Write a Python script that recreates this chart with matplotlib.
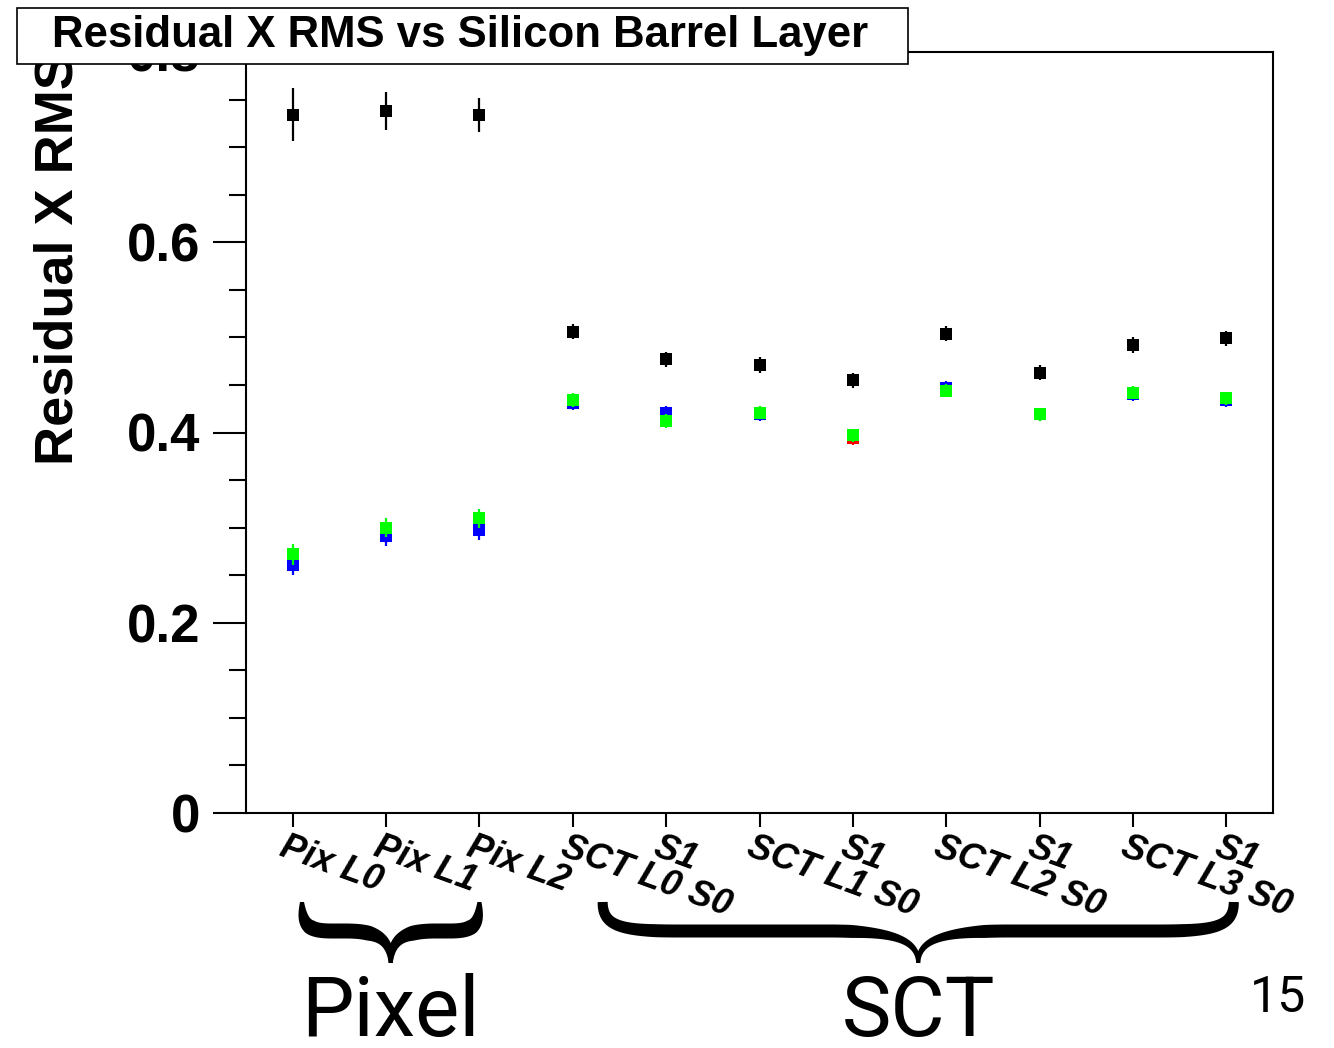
import matplotlib
matplotlib.use('Agg')
import matplotlib.pyplot as plt
import numpy as np
from matplotlib.patches import Polygon, Rectangle
from matplotlib.transforms import ScaledTranslation

plt.rcParams['font.family'] = ['Liberation Sans', 'DejaVu Sans']

layers = ['Pix L0', 'Pix L1', 'Pix L2', 'SCT L0 S0', 'S1', 'SCT L1 S0', 'S1',
          'SCT L2 S0', 'S1', 'SCT L3 S0', 'S1']

# residual x rms per barrel layer, one array per sample
rms_black = [0.734, 0.738, 0.734, 0.506, 0.477, 0.471, 0.455, 0.504, 0.463,
             0.492, 0.499]
err_black = [0.028, 0.020, 0.018, 0.008, 0.008, 0.008, 0.008, 0.008, 0.008,
             0.008, 0.008]
rms_red = [0.268, 0.294, 0.303, 0.433, 0.414, 0.420, 0.394, 0.444, 0.419,
           0.441, 0.435]
rms_blue = [0.261, 0.291, 0.297, 0.431, 0.421, 0.419, 0.397, 0.447, 0.419,
            0.440, 0.434]
rms_green = [0.272, 0.300, 0.310, 0.434, 0.412, 0.421, 0.397, 0.444, 0.419,
             0.442, 0.436]
err_colour = [0.011, 0.010, 0.010, 0.007, 0.007, 0.007, 0.007, 0.007, 0.007,
              0.007, 0.007]

groups = ['Pixel', 'SCT']


def cubic(p0, p1, p2, p3, n=40):
  t = np.linspace(0, 1, n)[:, None]
  p0, p1, p2, p3 = (np.asarray(p, float) for p in (p0, p1, p2, p3))
  return ((1 - t)**3 * p0 + 3 * (1 - t)**2 * t * p1 + 3 * (1 - t) * t**2 * p2 +
          t**3 * p3)


def half_brace(xa, xm, yt, ym, yb, r_end, r_tip, w_max, w_end, w_tip):
  """ Outline of one half of a curly brace, in pixels with y pointing down.

    Runs from the curled end at xa to the point at xm.
  """
  s = np.sign(xm - xa)
  curl = cubic((xa, yt), (xa, ym - 0.15 * (ym - yt)), (xa + s * 0.25 * r_end, ym),
               (xa + s * r_end, ym))
  arm = np.column_stack([np.linspace(xa + s * r_end, xm - s * r_tip, 20),
                         np.full(20, ym)])
  tip = cubic((xm - s * r_tip, ym), (xm - s * 0.3 * r_tip, ym),
              (xm, ym + 0.25 * (yb - ym)), (xm, yb))
  pts = np.vstack([curl, arm[1:], tip[1:]])
  seg = np.diff(pts, axis=0)
  arc = np.concatenate([[0], np.cumsum(np.hypot(seg[:, 0], seg[:, 1]))])
  up = np.clip(arc / (0.9 * r_end), 0, 1)
  down = np.clip((arc[-1] - arc) / (0.9 * r_tip), 0, 1)
  w = np.minimum(w_end + (w_max - w_end) * up, w_tip + (w_max - w_tip) * down)
  d = np.gradient(pts, axis=0)
  d /= np.hypot(d[:, 0], d[:, 1])[:, None]
  n = np.column_stack([-d[:, 1], d[:, 0]])
  side_a = pts + n * w[:, None] / 2
  side_b = pts - n * w[:, None] / 2
  return np.vstack([side_a, side_b[::-1]])


def draw_brace(fig, xa, xb, yt, ym, yb, r_end, r_tip, w_max, w_end, w_tip=4):
  """ Draws a curly brace pointing down; x in display pixels, y in image rows. """
  xm = (xa + xb) / 2
  height = fig.bbox.height
  to_fig = fig.transFigure.inverted()
  for x_end in (xa, xb):
    outline = half_brace(x_end, xm, yt, ym, yb, r_end, r_tip, w_max, w_end,
                         w_tip)
    outline[:, 1] = height - outline[:, 1]
    fig.add_artist(Polygon(to_fig.transform(outline), closed=True,
                           facecolor='black', edgecolor='none',
                           transform=fig.transFigure))
  return xm


fig = plt.figure(figsize=(13.34, 10.48), dpi=100)
ax = fig.add_axes([246 / 1334, 1 - 813 / 1048, 1027 / 1334, 761 / 1048])

x = np.arange(len(layers)) + 0.5
ax.errorbar(x, rms_black, yerr=err_black, fmt='s', color='black', ms=9,
            mew=0, elinewidth=1.6, capsize=0, zorder=3)
ax.errorbar(x, rms_red, yerr=err_colour, fmt='s', color='#ff0000', ms=9,
            mew=0, elinewidth=1.6, capsize=0, zorder=4)
ax.errorbar(x, rms_blue, yerr=err_colour, fmt='s', color='#0000ff', ms=9,
            mew=0, elinewidth=1.6, capsize=0, zorder=5)
ax.errorbar(x, rms_green, yerr=err_colour, fmt='s', color='#00ff00', ms=9,
            mew=0, elinewidth=1.6, capsize=0, zorder=6)

ax.set_xlim(0, len(layers))
ax.set_ylim(0, 0.8)
ax.set_yticks([0, 0.2, 0.4, 0.6, 0.8])
ax.set_yticklabels(['0', '0.2', '0.4', '0.6', '0.8'])
ax.set_yticks(np.arange(0, 0.8, 0.05), minor=True)
ax.set_xticks(x)
ax.set_xticklabels(layers, rotation=-20, ha='left', va='top',
                   rotation_mode='anchor', fontsize=26, fontweight='bold',
                   fontstyle='italic')
for side in ax.spines.values():
  side.set_linewidth(1.5)
ax.tick_params(axis='y', which='major', direction='out', length=24, width=1.5,
               pad=9, labelsize=38)
ax.tick_params(axis='y', which='minor', direction='out', length=12, width=1.5)
ax.tick_params(axis='x', which='major', direction='out', length=10, width=1.5,
               pad=2)
for lbl in ax.get_yticklabels():
  lbl.set_fontweight('bold')
for lbl in ax.get_xticklabels():
  lbl.set_transform(lbl.get_transform() +
                    ScaledTranslation(-5 / 100, 0, fig.dpi_scale_trans))

ax.set_ylabel('Residual X RMS', fontsize=39, fontweight='bold')
ax.yaxis.set_label_coords(-0.158, 0.728)

# title box sits on top of the frame
fig.add_artist(Rectangle((17 / 1334, 1 - 64 / 1048), 891 / 1334, 56 / 1048,
                         transform=fig.transFigure, facecolor='white',
                         edgecolor='black', linewidth=1.2, zorder=5))
fig.text(460 / 1334, 1 - 36 / 1048, 'Residual X RMS vs Silicon Barrel Layer',
         ha='center', va='center', fontsize=31.5, fontweight='bold', zorder=6)

# detector group braces under the axis, ends tied to the layer ticks
to_px = ax.transData.transform
brace_style = [
    dict(first=0, last=2, lead=0.10, trail=0.0, r_end=30, r_tip=45, w_max=15,
         w_end=4),
    dict(first=3, last=10, lead=0.32, trail=0.08, r_end=75, r_tip=90,
         w_max=13, w_end=10),
]
for name, st in zip(groups, brace_style):
  xa = to_px((x[st['first']] + st['lead'], 0))[0]
  xb = to_px((x[st['last']] + st['trail'], 0))[0]
  xm = draw_brace(fig, xa, xb, 902, 931, 963, st['r_end'], st['r_tip'],
                  st['w_max'], st['w_end'])
  fig.text(xm / 1334, 1 - 1036 / 1048, name, ha='center', va='baseline',
           fontsize=60, family='Roboto')

fig.text(1278 / 1334, 1 - 1012 / 1048, '15', ha='center', va='baseline',
         fontsize=36, family='Roboto')

plt.savefig('out.png', dpi=100)
